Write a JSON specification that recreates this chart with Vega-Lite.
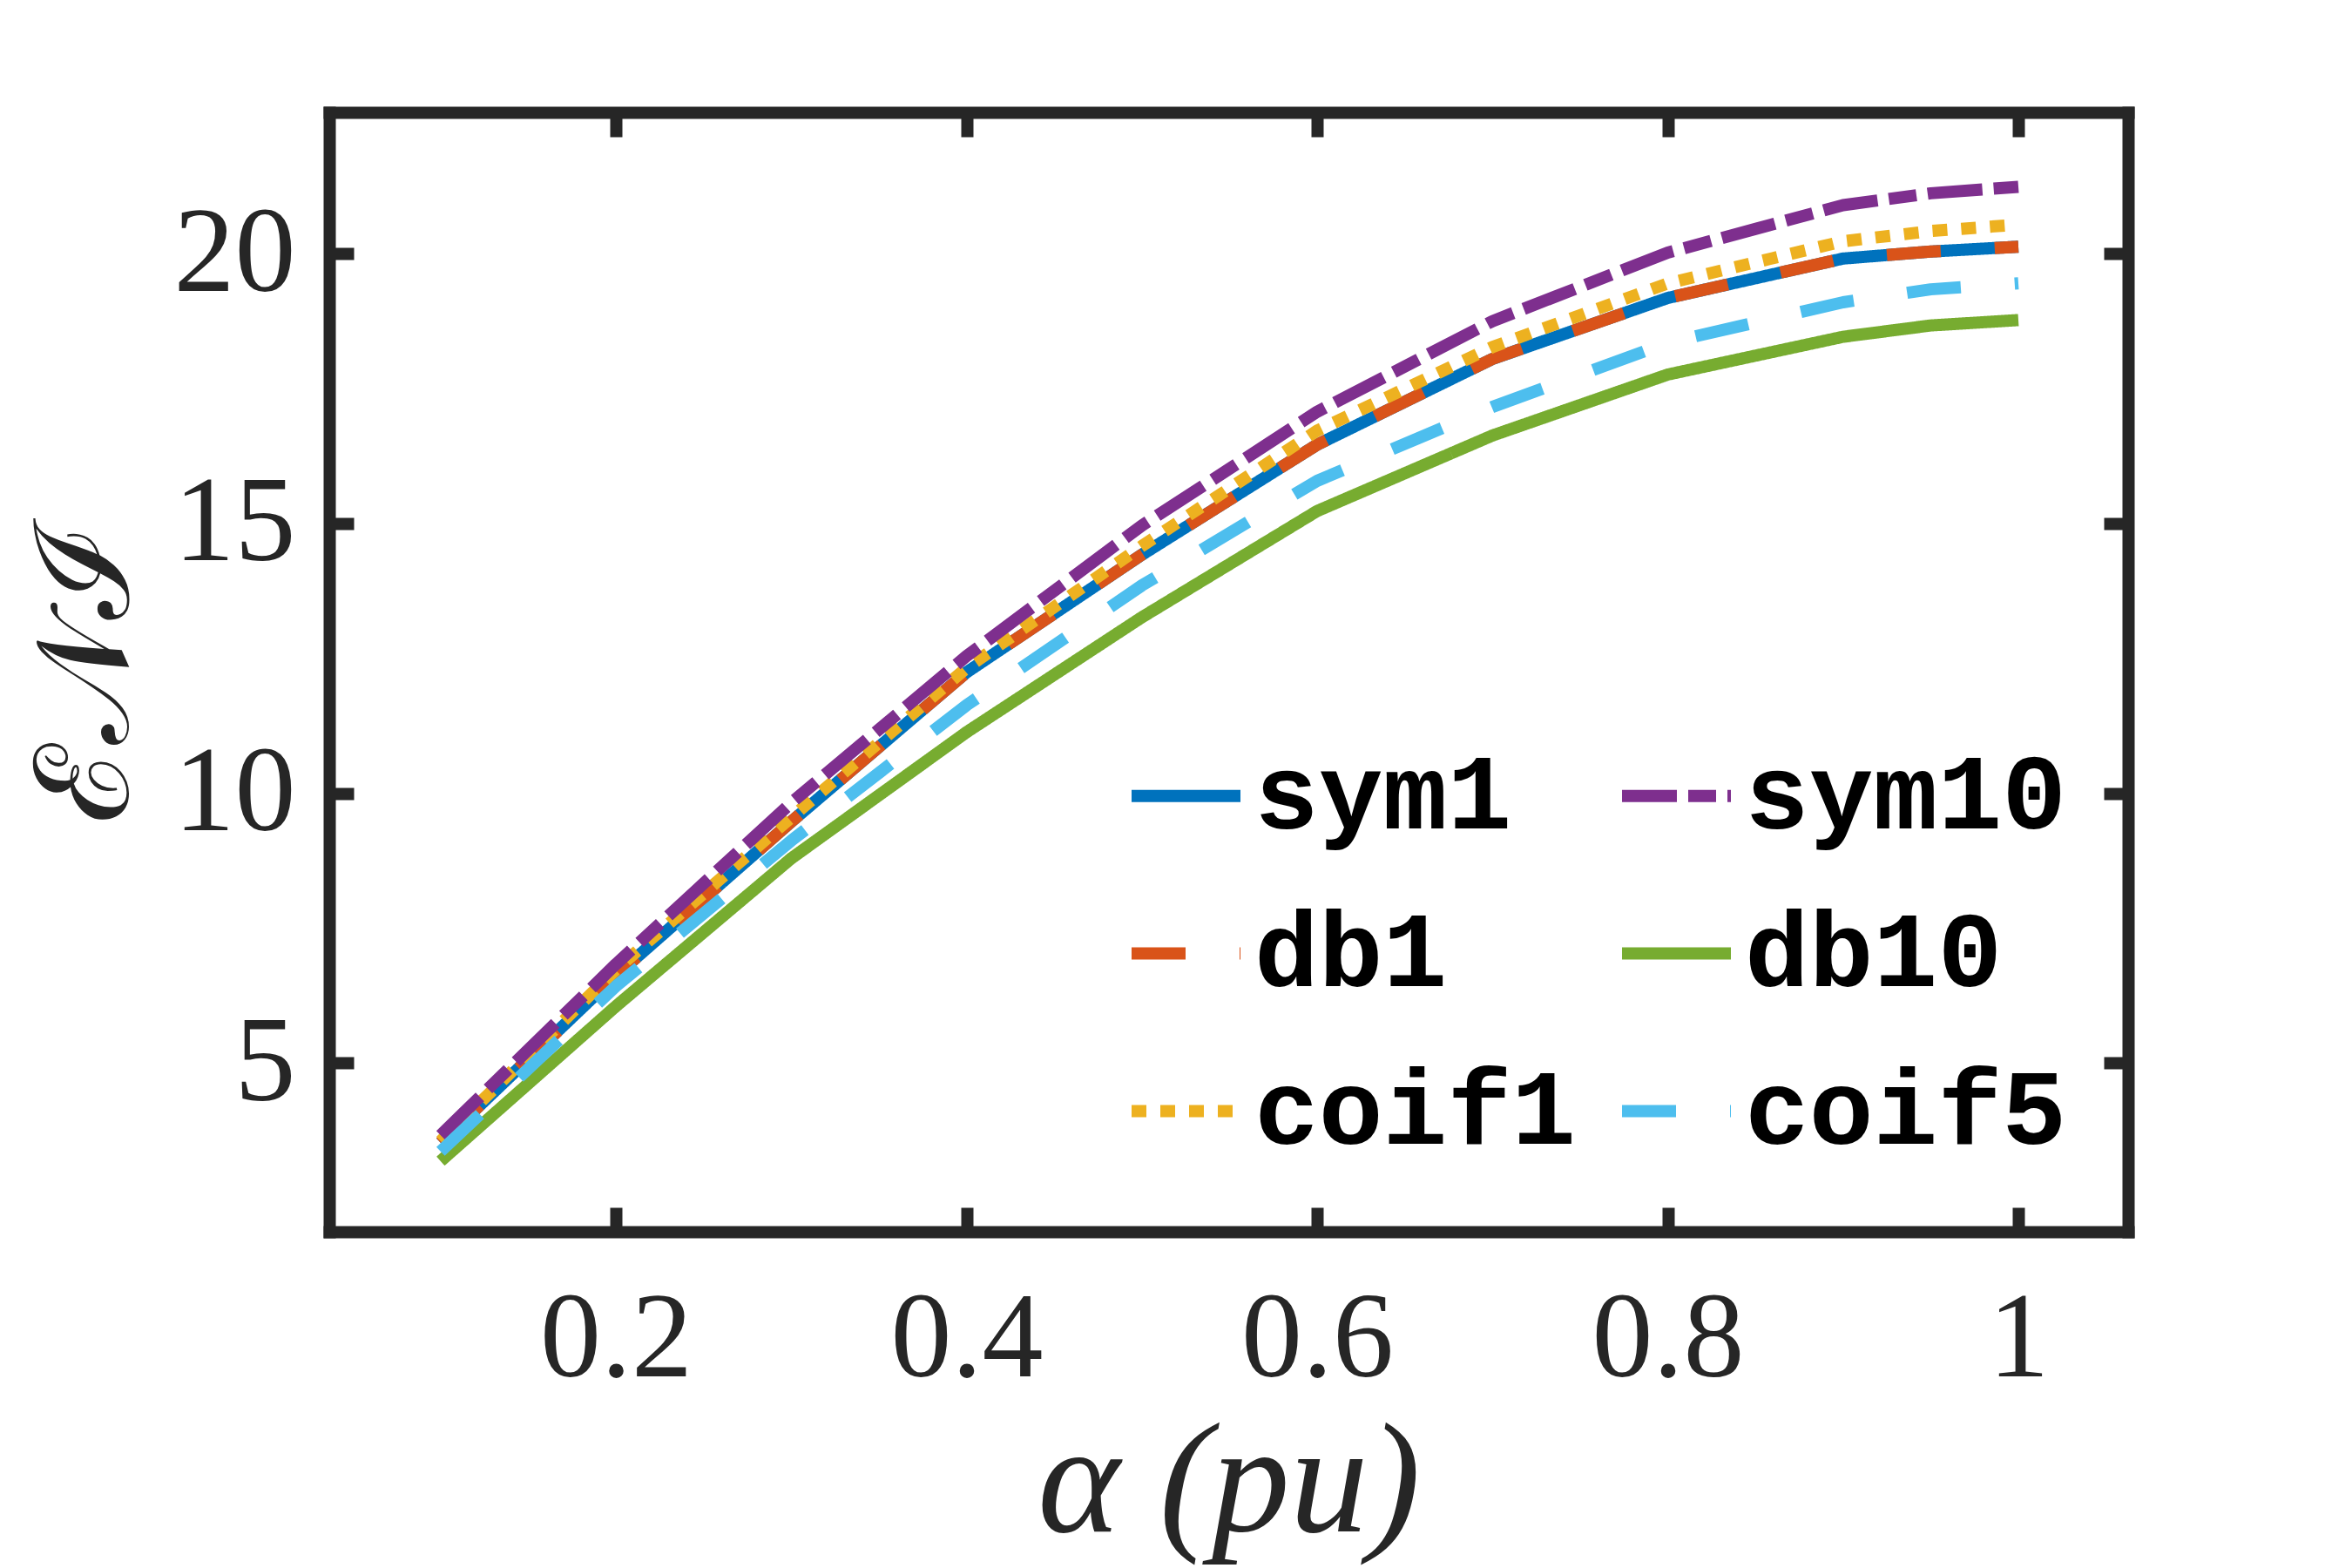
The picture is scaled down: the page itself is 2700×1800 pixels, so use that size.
{
  "$schema": "https://vega.github.io/schema/vega-lite/v6.json",
  "width": 2065,
  "height": 1285,
  "autosize": {"type": "none"},
  "padding": {"left": 378, "top": 129, "right": 257, "bottom": 386},
  "background": "white",
  "config": {"view": {"stroke": null}},
  "data": {
    "values": [
      {"alpha": 0.1, "wavelet": "sym1", "value": 3.52},
      {"alpha": 0.2, "wavelet": "sym1", "value": 6.62},
      {"alpha": 0.3, "wavelet": "sym1", "value": 9.47},
      {"alpha": 0.4, "wavelet": "sym1", "value": 12.24},
      {"alpha": 0.5, "wavelet": "sym1", "value": 14.42},
      {"alpha": 0.6, "wavelet": "sym1", "value": 16.46},
      {"alpha": 0.7, "wavelet": "sym1", "value": 18.05},
      {"alpha": 0.8, "wavelet": "sym1", "value": 19.18},
      {"alpha": 0.9, "wavelet": "sym1", "value": 19.91},
      {"alpha": 0.95, "wavelet": "sym1", "value": 20.04},
      {"alpha": 1.0, "wavelet": "sym1", "value": 20.13},
      {"alpha": 0.1, "wavelet": "db1", "value": 3.52},
      {"alpha": 0.2, "wavelet": "db1", "value": 6.62},
      {"alpha": 0.3, "wavelet": "db1", "value": 9.47},
      {"alpha": 0.4, "wavelet": "db1", "value": 12.24},
      {"alpha": 0.5, "wavelet": "db1", "value": 14.42},
      {"alpha": 0.6, "wavelet": "db1", "value": 16.46},
      {"alpha": 0.7, "wavelet": "db1", "value": 18.05},
      {"alpha": 0.8, "wavelet": "db1", "value": 19.18},
      {"alpha": 0.9, "wavelet": "db1", "value": 19.91},
      {"alpha": 0.95, "wavelet": "db1", "value": 20.04},
      {"alpha": 1.0, "wavelet": "db1", "value": 20.13},
      {"alpha": 0.1, "wavelet": "coif1", "value": 3.55},
      {"alpha": 0.2, "wavelet": "coif1", "value": 6.73},
      {"alpha": 0.3, "wavelet": "coif1", "value": 9.55},
      {"alpha": 0.4, "wavelet": "coif1", "value": 12.32},
      {"alpha": 0.5, "wavelet": "coif1", "value": 14.58},
      {"alpha": 0.6, "wavelet": "coif1", "value": 16.72},
      {"alpha": 0.7, "wavelet": "coif1", "value": 18.27},
      {"alpha": 0.8, "wavelet": "coif1", "value": 19.45},
      {"alpha": 0.9, "wavelet": "coif1", "value": 20.23},
      {"alpha": 0.95, "wavelet": "coif1", "value": 20.42},
      {"alpha": 1.0, "wavelet": "coif1", "value": 20.54},
      {"alpha": 0.1, "wavelet": "sym10", "value": 3.66},
      {"alpha": 0.2, "wavelet": "sym10", "value": 6.83},
      {"alpha": 0.3, "wavelet": "sym10", "value": 9.82},
      {"alpha": 0.4, "wavelet": "sym10", "value": 12.54},
      {"alpha": 0.5, "wavelet": "sym10", "value": 14.96},
      {"alpha": 0.6, "wavelet": "sym10", "value": 17.07},
      {"alpha": 0.7, "wavelet": "sym10", "value": 18.75},
      {"alpha": 0.8, "wavelet": "sym10", "value": 20.02},
      {"alpha": 0.9, "wavelet": "sym10", "value": 20.9},
      {"alpha": 0.95, "wavelet": "sym10", "value": 21.12},
      {"alpha": 1.0, "wavelet": "sym10", "value": 21.24},
      {"alpha": 0.1, "wavelet": "db10", "value": 3.18},
      {"alpha": 0.2, "wavelet": "db10", "value": 6.05},
      {"alpha": 0.3, "wavelet": "db10", "value": 8.79},
      {"alpha": 0.4, "wavelet": "db10", "value": 11.13},
      {"alpha": 0.5, "wavelet": "db10", "value": 13.26},
      {"alpha": 0.6, "wavelet": "db10", "value": 15.23},
      {"alpha": 0.7, "wavelet": "db10", "value": 16.63},
      {"alpha": 0.8, "wavelet": "db10", "value": 17.76},
      {"alpha": 0.9, "wavelet": "db10", "value": 18.46},
      {"alpha": 0.95, "wavelet": "db10", "value": 18.67},
      {"alpha": 1.0, "wavelet": "db10", "value": 18.77},
      {"alpha": 0.1, "wavelet": "coif5", "value": 3.36},
      {"alpha": 0.2, "wavelet": "coif5", "value": 6.42},
      {"alpha": 0.3, "wavelet": "coif5", "value": 9.12},
      {"alpha": 0.4, "wavelet": "coif5", "value": 11.63},
      {"alpha": 0.5, "wavelet": "coif5", "value": 13.85},
      {"alpha": 0.6, "wavelet": "coif5", "value": 15.79},
      {"alpha": 0.7, "wavelet": "coif5", "value": 17.16},
      {"alpha": 0.8, "wavelet": "coif5", "value": 18.35},
      {"alpha": 0.9, "wavelet": "coif5", "value": 19.1},
      {"alpha": 0.95, "wavelet": "coif5", "value": 19.34},
      {"alpha": 1.0, "wavelet": "coif5", "value": 19.45}
    ]
  },
  "layer": [
    {
      "mark": {"type": "line", "strokeWidth": 14, "strokeCap": "butt", "strokeJoin": "round"},
      "encoding": {
        "x": {
          "field": "alpha",
          "type": "quantitative",
          "scale": {"domain": [0.0365, 1.0626], "nice": false, "zero": false},
          "axis": {
            "orient": "bottom",
            "values": [0.2, 0.4, 0.6, 0.8, 1],
            "format": "~g",
            "title": "α (pu)",
            "titleFont": "Liberation Serif",
            "titleFontStyle": "italic",
            "titleFontWeight": "normal",
            "titleFontSize": 180,
            "titleColor": "#262626",
            "titlePadding": 8,
            "labelFont": "Liberation Serif",
            "labelFontSize": 140,
            "labelColor": "#262626",
            "labelPadding": 82,
            "labelFlush": false,
            "labelOverlap": false,
            "domainColor": "#262626",
            "domainWidth": 14,
            "domainCap": "square",
            "tickSize": -28,
            "tickWidth": 14,
            "tickColor": "#262626",
            "grid": false
          }
        },
        "y": {
          "field": "value",
          "type": "quantitative",
          "scale": {"domain": [1.87, 22.62], "nice": false, "zero": false},
          "axis": {
            "orient": "left",
            "values": [5, 10, 15, 20],
            "title": "ℰ𝒩ℐ",
            "titleFont": "DejaVu Serif",
            "titleFontWeight": "normal",
            "titleFontSize": 150,
            "titleColor": "#262626",
            "titlePadding": 22,
            "labelFont": "Liberation Serif",
            "labelFontSize": 140,
            "labelColor": "#262626",
            "labelPadding": 67,
            "labelOverlap": false,
            "domainColor": "#262626",
            "domainWidth": 14,
            "domainCap": "square",
            "tickSize": -28,
            "tickWidth": 14,
            "tickColor": "#262626",
            "grid": false
          }
        },
        "color": {
          "field": "wavelet",
          "type": "nominal",
          "scale": {
            "domain": ["sym1", "db1", "coif1", "sym10", "db10", "coif5"],
            "range": ["#0072BD", "#D95319", "#EDB120", "#7E2F8E", "#77AC30", "#4DBEEE"]
          },
          "legend": {
            "orient": "none",
            "legendX": 914,
            "legendY": 715,
            "columns": 2,
            "title": null,
            "padding": 0,
            "symbolType": "stroke",
            "symbolSize": 15625,
            "symbolStrokeWidth": 14,
            "labelFont": "Liberation Mono",
            "labelFontWeight": "bold",
            "labelFontSize": 123,
            "labelColor": "#000000",
            "labelOffset": 9,
            "labelLimit": 1000,
            "columnPadding": 24,
            "rowPadding": 49
          }
        },
        "strokeDash": {
          "field": "wavelet",
          "type": "nominal",
          "scale": {
            "domain": ["sym1", "db1", "coif1", "sym10", "db10", "coif5"],
            "range": [[1, 0], [62, 62], [17, 16], [63, 13, 32, 13], [1, 0], [62, 62]]
          }
        }
      }
    },
    {
      "mark": {"type": "point", "opacity": 0},
      "encoding": {
        "x": {
          "field": "alpha",
          "type": "quantitative",
          "axis": {
            "orient": "top",
            "values": [0.2, 0.4, 0.6, 0.8, 1],
            "labels": false,
            "title": null,
            "domainColor": "#262626",
            "domainWidth": 14,
            "domainCap": "square",
            "tickSize": -28,
            "tickWidth": 14,
            "tickColor": "#262626",
            "grid": false
          }
        },
        "y": {
          "field": "value",
          "type": "quantitative",
          "axis": {
            "orient": "right",
            "values": [5, 10, 15, 20],
            "labels": false,
            "title": null,
            "domainColor": "#262626",
            "domainWidth": 14,
            "domainCap": "square",
            "tickSize": -28,
            "tickWidth": 14,
            "tickColor": "#262626",
            "grid": false
          }
        }
      }
    }
  ],
  "resolve": {"axis": {"x": "independent", "y": "independent"}}
}
